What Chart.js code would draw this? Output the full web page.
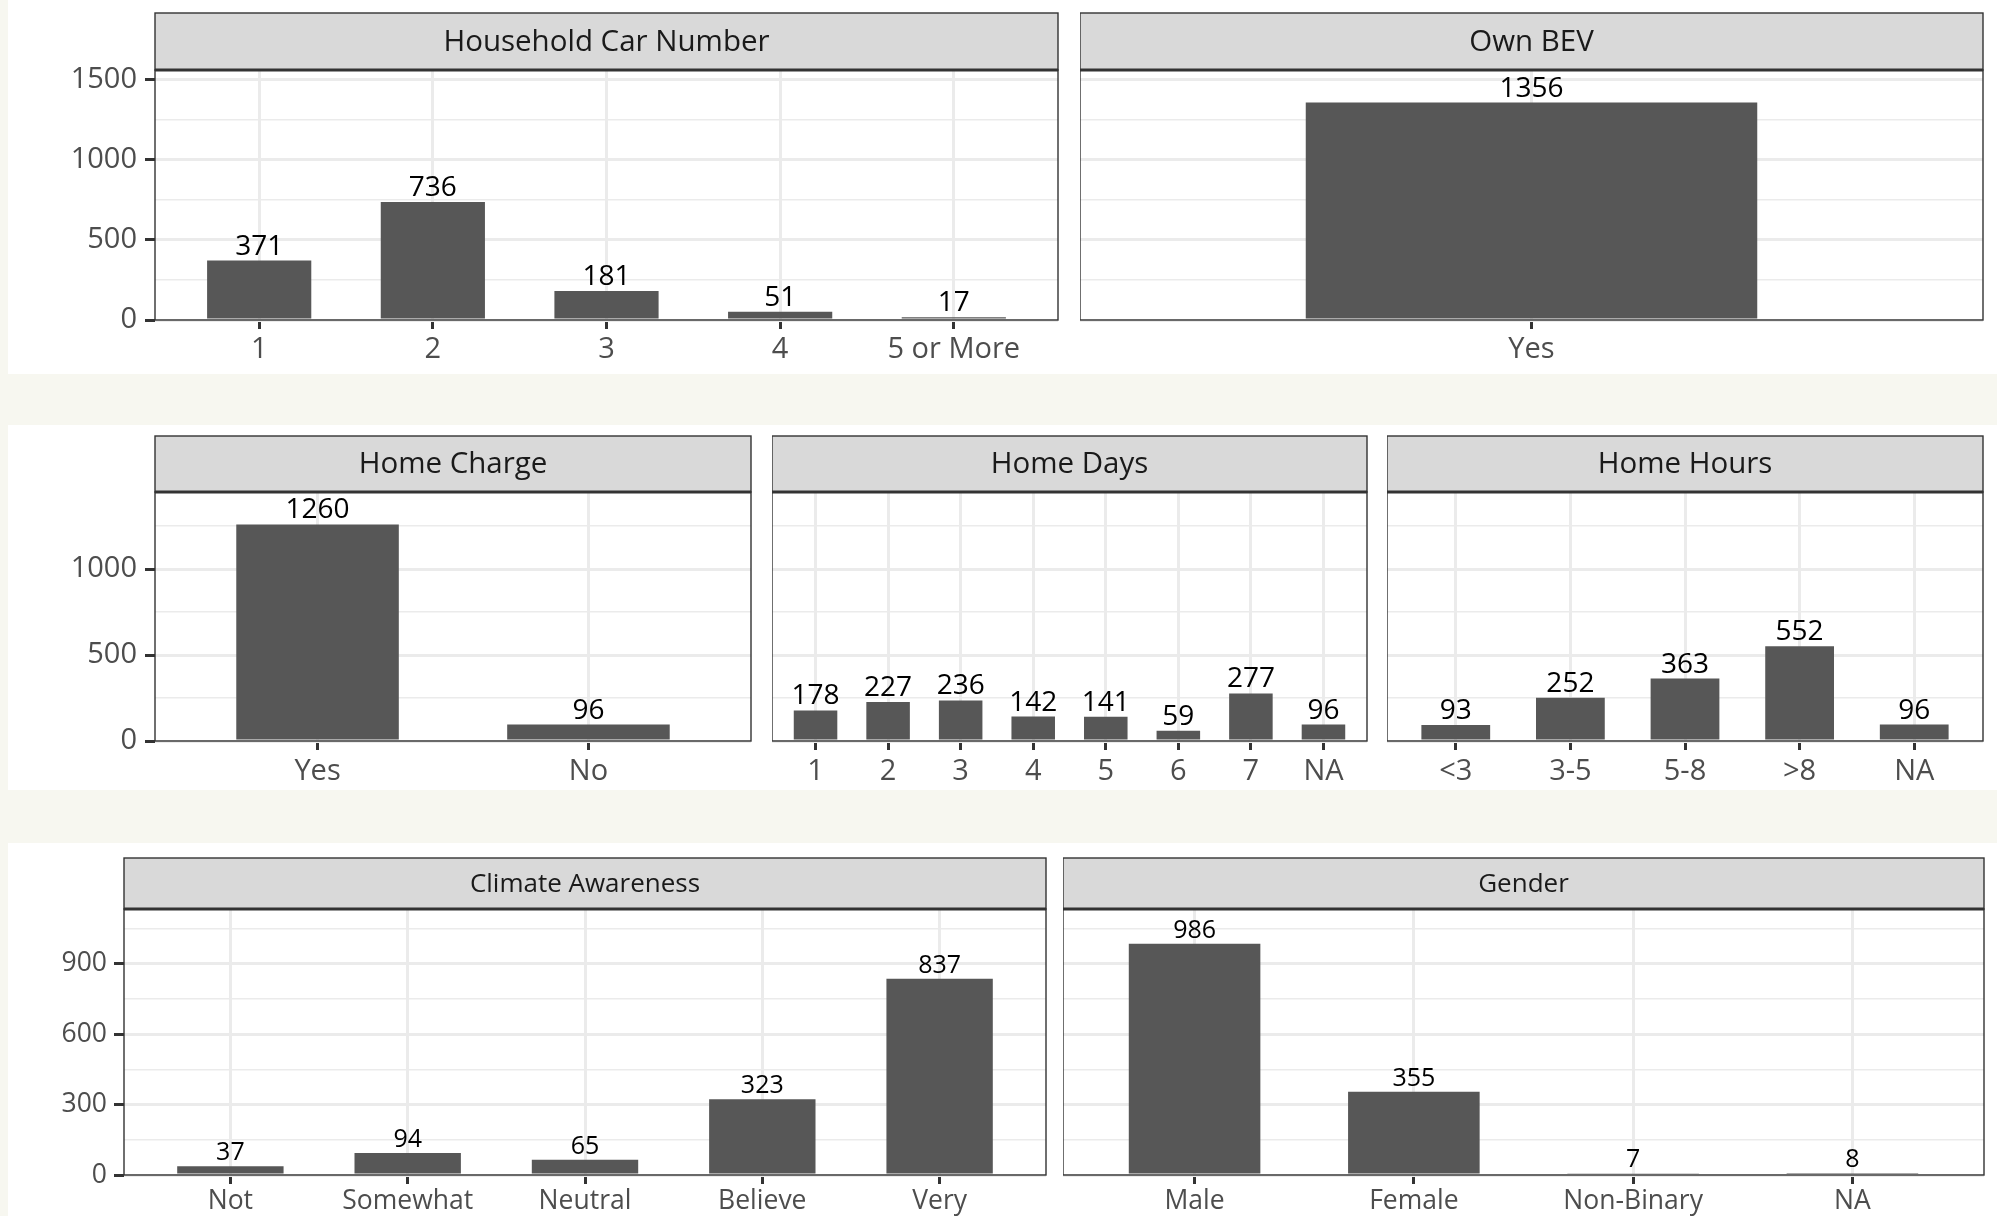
<!DOCTYPE html>
<html>
<head>
<meta charset="utf-8">
<script src="https://cdn.jsdelivr.net/npm/chart.js@4.4.1/dist/chart.umd.min.js"></script>
<style>
  html, body { margin: 0; padding: 0; }
  body { width: 1997px; height: 1216px; background: #f7f7f0; position: relative; overflow: hidden; }
  .band { position: absolute; background: #ffffff; }
  .panel { position: absolute; }
</style>
</head>
<body>
<div class="band" style="left:8px;top:0;width:1989px;height:374px"></div>
<div class="band" style="left:8px;top:425px;width:1989px;height:365px"></div>
<div class="band" style="left:8px;top:843px;width:1989px;height:373px"></div>
<script>
// données
const carCats = ['1', '2', '3', '4', '5 or More'];
const carVals = [371, 736, 181, 51, 17];
const bevCats = ['Yes'];
const bevVals = [1356];
const chargeCats = ['Yes', 'No'];
const chargeVals = [1260, 96];
const daysCats = ['1', '2', '3', '4', '5', '6', '7', 'NA'];
const daysVals = [178, 227, 236, 142, 141, 59, 277, 96];
const hoursCats = ['<3', '3-5', '5-8', '>8', 'NA'];
const hoursVals = [93, 252, 363, 552, 96];
const climateCats = ['Not', 'Somewhat', 'Neutral', 'Believe', 'Very'];
const climateVals = [37, 94, 65, 323, 837];
const genderCats = ['Male', 'Female', 'Non-Binary', 'NA'];
const genderVals = [986, 355, 7, 8];

// graduations de l'axe y, une liste par rangée
const row1Ticks = [0, 500, 1000, 1500];
const row2Ticks = [0, 500, 1000];
const row3Ticks = [0, 300, 600, 900];

const FONT = "'Open Sans', 'Noto Sans', sans-serif";
const BAR = '#575757';

const rows = [
    {
        stripTop: 13, plotTop: 70, plotBottom: 320, ticks: row1Ticks,
        fs: { strip: 29.5, tick: 29, value: 28 }, xPad: 3, yPad: 8,
        panels: [
            { title: 'Household Car Number', cats: carCats, vals: carVals, left: 155, right: 1058 },
            { title: 'Own BEV', cats: bevCats, vals: bevVals, left: 1080, right: 1983 },
        ],
    },
    {
        stripTop: 436, plotTop: 492, plotBottom: 741, ticks: row2Ticks,
        fs: { strip: 29.5, tick: 29, value: 28 }, xPad: 4, yPad: 8,
        panels: [
            { title: 'Home Charge', cats: chargeCats, vals: chargeVals, left: 155, right: 751 },
            { title: 'Home Days', cats: daysCats, vals: daysVals, left: 772, right: 1367 },
            { title: 'Home Hours', cats: hoursCats, vals: hoursVals, left: 1387, right: 1983 },
        ],
    },
    {
        stripTop: 858, plotTop: 909, plotBottom: 1175, ticks: row3Ticks,
        fs: { strip: 26, tick: 26.5, value: 25 }, xPad: 2, yPad: 7,
        panels: [
            { title: 'Climate Awareness', cats: climateCats, vals: climateVals, left: 124, right: 1046 },
            { title: 'Gender', cats: genderCats, vals: genderVals, left: 1063, right: 1984 },
        ],
    },
];

// bandeau gris + cadre du panneau, façon theme_bw
const facetPlugin = {
    id: 'facet',
    afterDraw(chart, args, opts) {
        const { ctx, chartArea: a } = chart;
        const w = a.right - a.left;
        ctx.save();
        ctx.fillStyle = '#d9d9d9';
        ctx.fillRect(a.left, opts.stripY, w, a.top - opts.stripY);
        ctx.strokeStyle = '#333333';
        ctx.lineWidth = 1.4;
        ctx.strokeRect(a.left, opts.stripY, w, a.top - opts.stripY);
        ctx.strokeRect(a.left, a.top, w, a.bottom - a.top);
        ctx.lineWidth = 3;
        ctx.beginPath();
        ctx.moveTo(a.left, a.top);
        ctx.lineTo(a.right, a.top);
        ctx.stroke();
        ctx.fillStyle = '#1a1a1a';
        ctx.font = opts.size + 'px ' + FONT;
        ctx.textAlign = 'center';
        ctx.textBaseline = 'middle';
        ctx.fillText(opts.title, (a.left + a.right) / 2, (opts.stripY + a.top) / 2 + 1);
        ctx.restore();
    },
};

// étiquettes des effectifs au-dessus des barres
const countLabels = {
    id: 'countLabels',
    afterDatasetsDraw(chart, args, opts) {
        const { ctx } = chart;
        const meta = chart.getDatasetMeta(0);
        ctx.save();
        ctx.fillStyle = '#000000';
        ctx.font = opts.size + 'px ' + FONT;
        ctx.textAlign = 'center';
        ctx.textBaseline = 'alphabetic';
        meta.data.forEach((bar, i) => {
            ctx.fillText(String(chart.data.datasets[0].data[i].y), bar.x, bar.y - 6);
        });
        ctx.restore();
    },
};

function makePanel(row, p, first, yMax) {
    const axW = first ? p.left - 10 : 0;
    const L = p.left - axW;
    const T = row.stripTop - 2;
    const xAxisH = 50;
    const W = p.right - p.left + axW + 2;
    const H = row.plotBottom - T + xAxisH;
    const div = document.createElement('div');
    div.className = 'panel';
    div.style.cssText = `left:${L}px;top:${T}px;width:${W}px;height:${H}px`;
    const canvas = document.createElement('canvas');
    div.appendChild(canvas);
    document.body.appendChild(div);

    const step = row.ticks[1] - row.ticks[0];
    const isMajor = v => v % step === 0;
    const yTickValues = [];
    row.ticks.forEach(t => {
        yTickValues.push(t);
        if (t + step / 2 < yMax) yTickValues.push(t + step / 2);
    });
    const n = p.cats.length;

    return new Chart(canvas, {
        type: 'bar',
        data: {
            datasets: [{
                data: p.vals.map((v, i) => ({ x: i + 1, y: v })),
                backgroundColor: BAR,
                borderWidth: 0,
                barPercentage: n === 1 ? 0.5 : 0.6,
                categoryPercentage: 1,
            }],
        },
        options: {
            responsive: true,
            maintainAspectRatio: false,
            animation: false,
            layout: { padding: { top: row.plotTop - T, right: 2, left: 0, bottom: 0 } },
            scales: {
                x: {
                    type: 'linear',
                    min: 0.4,
                    max: n + 0.6,
                    offset: false,
                    afterBuildTicks: s => { s.ticks = p.cats.map((c, i) => ({ value: i + 1 })); },
                    afterFit: s => { s.height = xAxisH; },
                    grid: {
                        offset: false,
                        color: '#ebebeb',
                        lineWidth: 3,
                        tickColor: '#333333',
                        tickWidth: 3,
                        tickLength: 9,
                    },
                    border: { display: false },
                    ticks: {
                        autoSkip: false,
                        maxRotation: 0,
                        minRotation: 0,
                        padding: row.xPad,
                        color: '#4d4d4d',
                        font: { family: FONT, size: row.fs.tick },
                        callback: v => p.cats[v - 1],
                    },
                },
                y: {
                    min: 0,
                    max: yMax,
                    afterBuildTicks: s => { s.ticks = yTickValues.map(v => ({ value: v })); },
                    afterFit: s => { s.width = axW; },
                    grid: {
                        color: '#ebebeb',
                        lineWidth: c => (isMajor(c.tick.value) ? 3 : 1.6),
                        drawTicks: first,
                        tickLength: 10,
                        tickColor: c => (isMajor(c.tick.value) ? '#333333' : 'rgba(0,0,0,0)'),
                        tickWidth: 3,
                    },
                    border: { display: false },
                    ticks: {
                        display: first,
                        padding: row.yPad,
                        color: '#4d4d4d',
                        font: { family: FONT, size: row.fs.tick },
                        callback: v => (isMajor(v) ? String(v) : ''),
                    },
                },
            },
            plugins: {
                legend: { display: false },
                tooltip: { enabled: false },
                facet: { title: p.title, stripY: 2, size: row.fs.strip },
                countLabels: { size: row.fs.value },
            },
        },
        plugins: [facetPlugin, countLabels],
    });
}

rows.forEach(row => {
    const yMax = Math.max(...row.panels.flatMap(p => p.vals)) * 1.15;
    row.panels.forEach((p, i) => makePanel(row, p, i === 0, yMax));
});
</script>
</body>
</html>
